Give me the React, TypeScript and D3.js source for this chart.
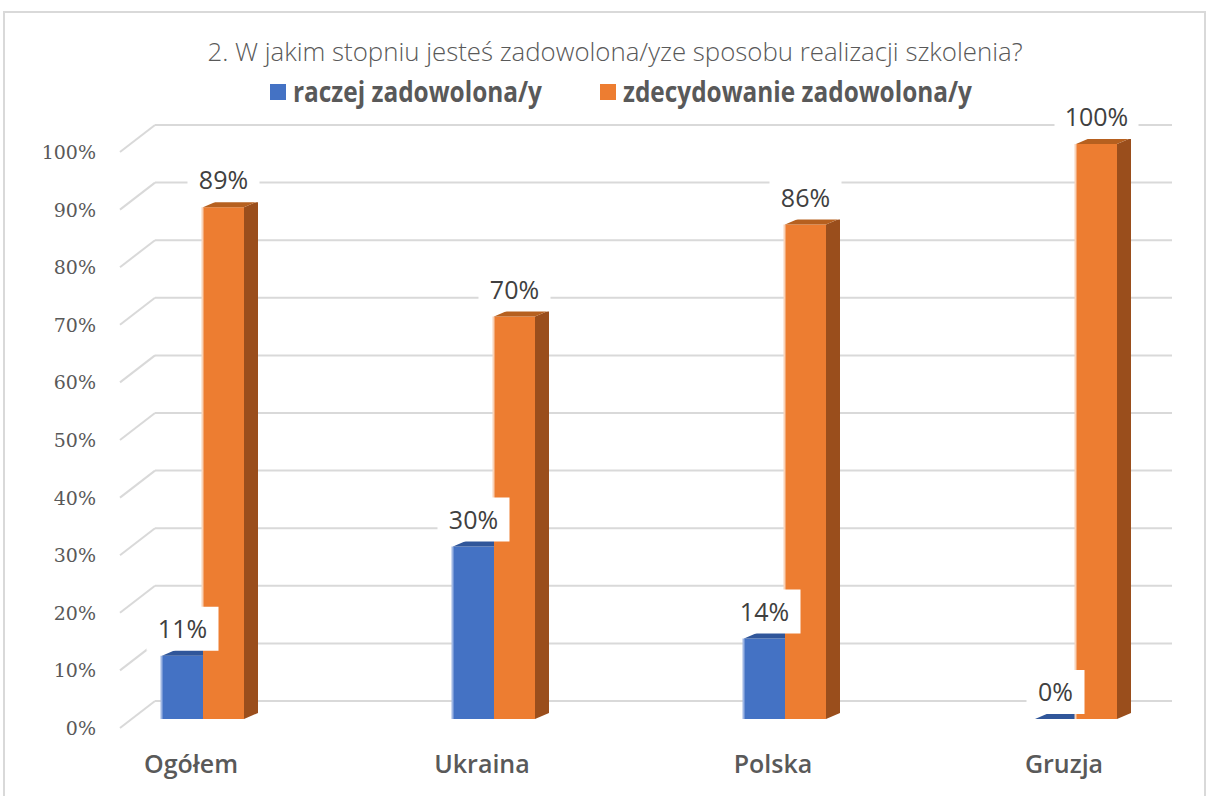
import React from "react";
import * as d3 from "d3";

const title = "2. W jakim stopniu jesteś zadowolona/yze sposobu realizacji szkolenia?";
const categories = ["Ogółem", "Ukraina", "Polska", "Gruzja"];
const seriesNames = ["raczej zadowolona/y", "zdecydowanie zadowolona/y"];
const raczej = [0.11, 0.3, 0.14, 0];
const zdecydowanie = [0.89, 0.7, 0.86, 1.0];
const tickValues = [0, 0.1, 0.2, 0.3, 0.4, 0.5, 0.6, 0.7, 0.8, 0.9, 1.0];

const W = 1208;
const H = 796;

const colors = [
  { front: "#4472C4", top: "#30569A", side: "#2F528F", edge: "#9DB5E3" },
  { front: "#ED7D31", top: "#B6601F", side: "#9A4E1C", edge: "#F8D2B8" },
];

export default function App() {
  const yFront = d3.scaleLinear().domain([0, 1]).range([719, 144]);
  const yBack = d3.scaleLinear().domain([0, 1]).range([701, 125]);
  const x = d3.scaleBand<string>().domain(categories).range([57.5, 1221.5]).paddingInner(0).paddingOuter(0);
  const barW = 41;
  const dx = 14;
  const dy = 6;
  const wallLeft = 155;
  const wallRight = 1172;
  const diagDx = 35;
  const diagDy = 27;
  const fmt = d3.format(".0%");

  const series = [raczej, zdecydowanie];

  const bars: React.ReactNode[] = [];
  const labels: React.ReactNode[] = [];

  categories.forEach((c, i) => {
    const center = (x(c) as number) + x.bandwidth() / 2;
    series.forEach((vals, s) => {
      const v = vals[i];
      const x0 = center + (s === 0 ? -barW : 0);
      const x1 = x0 + barW;
      const yt = yFront(v);
      const yb = yFront(0);
      const col = colors[s];
      // edge stripe only where not adjacent to the blue bar
      const edgeBottom = s === 0 ? yb : yFront(raczej[i]) - (raczej[i] > 0 ? dy : 0);
      bars.push(
        <g key={`b-${i}-${s}`}>
          <polygon
            points={`${x1},${yt} ${x1 + dx},${yt - dy} ${x1 + dx},${yb - dy} ${x1},${yb}`}
            fill={col.side}
          />
          <rect x={x0} y={yt} width={barW} height={yb - yt} fill={col.front} />
          {edgeBottom > yt && (
            <rect x={x0 - 1.5} y={yt} width={2} height={edgeBottom - yt} fill={col.edge} />
          )}
          <polygon
            points={`${x0},${yt} ${x0 + dx},${yt - dy} ${x1 + dx},${yt - dy} ${x1},${yt}`}
            fill={col.top}
          />
        </g>
      );
      const lx = x0 + barW / 2;
      const baseline = yt - dy - 12;
      const text = fmt(v);
      const tw = text.length === 4 ? 62 : text.length === 3 ? 50 : 36;
      const bw = tw + 22;
      labels.push(
        <g key={`l-${i}-${s}`}>
          <rect x={lx - bw / 2} y={baseline - 31} width={bw} height={44} fill="#FFFFFF" />
          <text
            x={lx}
            y={baseline}
            textAnchor="middle"
            fontFamily="'Open Sans', sans-serif"
            fontSize={25}
            fill="#404040"
          >
            {text}
          </text>
        </g>
      );
    });
  });

  return (
    <svg width={W} height={H} style={{ position: "absolute", left: 0, top: 0, background: "#fff" }}>
      <rect x={0} y={0} width={W} height={H} fill="#FFFFFF" />
      <rect x={4} y={12} width={1201} height={800} fill="none" stroke="#D9D9D9" strokeWidth={2} />

      <text
        x={615}
        y={61}
        textAnchor="middle"
        fontFamily="'Open Sans', sans-serif"
        fontWeight={300}
        fontSize={26}
        fill="#595959"
        textLength={815}
        lengthAdjust="spacingAndGlyphs"
      >
        {title}
      </text>

      {/* legend */}
      <rect x={270} y={84} width={16} height={16} fill={colors[0].front} />
      <text
        x={293}
        y={102}
        fontFamily="'Open Sans', sans-serif"
        fontWeight={700}
        fontSize={29}
        fill="#595959"
        textLength={249}
        lengthAdjust="spacingAndGlyphs"
      >
        {seriesNames[0]}
      </text>
      <rect x={600} y={84} width={16} height={16} fill={colors[1].front} />
      <text
        x={623}
        y={102}
        fontFamily="'Open Sans', sans-serif"
        fontWeight={700}
        fontSize={29}
        fill="#595959"
        textLength={349}
        lengthAdjust="spacingAndGlyphs"
      >
        {seriesNames[1]}
      </text>

      {/* gridlines */}
      {tickValues.map((t) => (
        <g key={`g-${t}`}>
          <line x1={wallLeft} x2={wallRight} y1={yBack(t)} y2={yBack(t)} stroke="#D9D9D9" strokeWidth={2} />
          <line
            x1={wallLeft}
            y1={yBack(t)}
            x2={wallLeft - diagDx}
            y2={yBack(t) + diagDy}
            stroke="#D9D9D9"
            strokeWidth={2}
          />
          <text
            x={96}
            y={yBack(t) + diagDy + 7}
            textAnchor="end"
            fontFamily="'DejaVu Serif', serif"
            fontSize={19}
            fill="#595959"
          >
            {fmt(t)}
          </text>
        </g>
      ))}

      {bars}
      {labels}

      {categories.map((c) => (
        <text
          key={`c-${c}`}
          x={(x(c) as number) + x.bandwidth() / 2 - 12}
          y={773}
          textAnchor="middle"
          fontFamily="'Open Sans', sans-serif"
          fontWeight={600}
          fontSize={25}
          fill="#595959"
        >
          {c}
        </text>
      ))}
    </svg>
  );
}
